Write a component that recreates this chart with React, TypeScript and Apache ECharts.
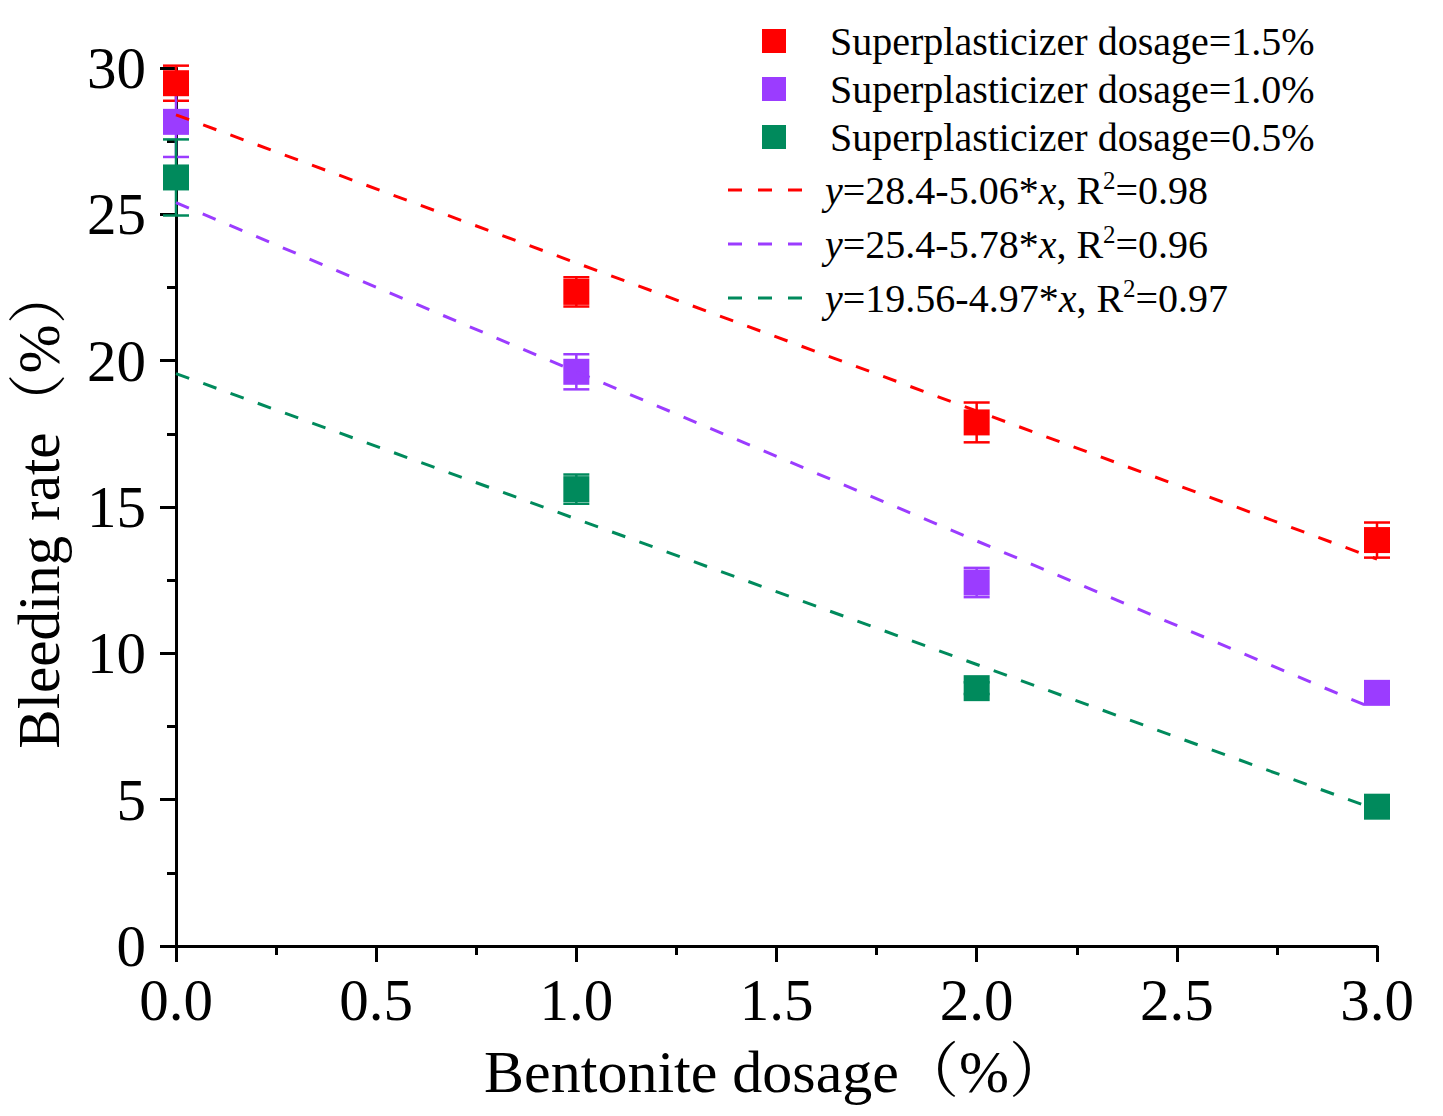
import React, { useEffect, useRef } from "react";
import * as echarts from "echarts";

const FONT = "'Liberation Serif', 'Times New Roman', 'Noto Serif CJK SC', 'Noto Sans CJK SC', serif";

const xValues = [0, 1, 2, 3];

const sp15Name = "Superplasticizer dosage=1.5%";
const sp10Name = "Superplasticizer dosage=1.0%";
const sp05Name = "Superplasticizer dosage=0.5%";

const sp15 = [29.48, 22.35, 17.89, 13.87];
const sp15Err = [0.6, 0.5, 0.68, 0.6];
const sp10 = [28.16, 19.62, 12.42, 8.65];
const sp10Err = [1.2, 0.6, 0.5, 0.2];
const sp05 = [26.26, 15.61, 8.81, 4.76];
const sp05Err = [1.3, 0.5, 0.2, 0.2];

const fit15Name = "fit15";
const fit10Name = "fit10";
const fit05Name = "fit05";
const fit15 = [[0, 28.4], [3, 13.22]];
const fit10 = [[0, 25.4], [3, 8.06]];
const fit05 = [[0, 19.56], [3, 4.65]];

const fitLabels: Record<string, string> = {
  fit15: "{i|y}=28.4-5.06*{i|x}, R{s|2}=0.98",
  fit10: "{i|y}=25.4-5.78*{i|x}, R{s|2}=0.96",
  fit05: "{i|y}=19.56-4.97*{i|x}, R{s|2}=0.97",
};

const RED = "#FF0000";
const PURPLE = "#9B3CFF";
const GREEN = "#008A5C";

const DASH_ICON = "path://M0 0h14v3H0z M30 0h14v3H30z M60 0h14v3H60z";

function errSeries(vals: number[], errs: number[], color: string) {
  return {
    type: "custom",
    z: 3,
    data: xValues.map((x, i) => [x, vals[i], errs[i]]),
    renderItem: (params: any, api: any) => {
      const x = api.value(0);
      const y = api.value(1);
      const e = api.value(2);
      const top = api.coord([x, y + e]);
      const bot = api.coord([x, y - e]);
      const hw = 13;
      const st = { stroke: color, lineWidth: 2.5 };
      return {
        type: "group",
        children: [
          { type: "line", shape: { x1: top[0], y1: top[1], x2: bot[0], y2: bot[1] }, style: st },
          { type: "line", shape: { x1: top[0] - hw, y1: top[1], x2: top[0] + hw, y2: top[1] }, style: st },
          { type: "line", shape: { x1: bot[0] - hw, y1: bot[1], x2: bot[0] + hw, y2: bot[1] }, style: st },
        ],
      };
    },
  };
}

function scatter(name: string, vals: number[], color: string) {
  return {
    name,
    type: "scatter",
    z: 3,
    symbol: "rect",
    symbolSize: 26,
    itemStyle: { color, opacity: 1 },
    data: xValues.map((x, i) => [x, vals[i]]),
  };
}

function fitLine(name: string, data: number[][], color: string) {
  return {
    name,
    type: "line",
    z: 4,
    symbol: "none",
    showSymbol: false,
    lineStyle: { color, width: 3, type: [14, 15] },
    itemStyle: { color },
    data,
  };
}

export default function App() {
  const ref = useRef<HTMLDivElement>(null);
  useEffect(() => {
    document.body.style.margin = "0";
    const chart = echarts.init(ref.current!, undefined, { renderer: "svg" });
    const axisLineStyle = { color: "#000", width: 3 };
    chart.setOption({
      animation: false,
      backgroundColor: "#fff",
      textStyle: { fontFamily: FONT },
      grid: { left: 176, right: 66, top: 68, bottom: 170, containLabel: false, outerBoundsMode: "none" },
      legend: [
        {
          data: [sp15Name, sp10Name, sp05Name],
          orient: "vertical",
          left: 762,
          top: 20,
          padding: 0,
          itemWidth: 24,
          itemHeight: 24,
          itemGap: 6,
          icon: "rect",
          textStyle: { fontFamily: FONT, fontSize: 40, color: "#000", lineHeight: 42, padding: [0, 0, 0, 39] },
        },
        {
          data: [fit15Name, fit10Name, fit05Name],
          orient: "vertical",
          left: 728,
          top: 168,
          padding: 0,
          itemWidth: 78,
          itemHeight: 3,
          itemGap: 10,
          icon: DASH_ICON,
          formatter: (n: string) => fitLabels[n] || n,
          textStyle: {
            fontFamily: FONT,
            fontSize: 40,
            color: "#000",
            lineHeight: 44,
            padding: [0, 0, 0, 16],
            rich: {
              i: { fontFamily: FONT, fontSize: 40, fontStyle: "italic", color: "#000", lineHeight: 44 },
              s: { fontFamily: FONT, fontSize: 25, color: "#000", verticalAlign: "top", lineHeight: 24 },
            },
          },
        },
      ],
      xAxis: {
        type: "value",
        min: 0,
        max: 3,
        interval: 0.5,
        name: "Bentonite dosage（%）",
        nameLocation: "middle",
        nameGap: 96,
        nameTextStyle: { fontFamily: FONT, fontSize: 60, color: "#000" },
        axisLine: { show: true, onZero: false, lineStyle: axisLineStyle },
        axisTick: { show: true, inside: false, length: 16, lineStyle: { color: "#000", width: 3 } },
        minorTick: { show: true, splitNumber: 2, length: 9, lineStyle: { color: "#000", width: 3 } },
        axisLabel: {
          fontFamily: FONT,
          fontSize: 59,
          color: "#000",
          margin: 24,
          formatter: (v: number) => v.toFixed(1),
        },
        splitLine: { show: false },
      },
      yAxis: {
        type: "value",
        min: 0,
        max: 30,
        interval: 5,
        name: "Bleeding rate（%）",
        nameLocation: "middle",
        nameGap: 108,
        nameTextStyle: { fontFamily: FONT, fontSize: 59, color: "#000" },
        axisLine: { show: true, onZero: false, lineStyle: axisLineStyle },
        axisTick: { show: true, inside: false, length: 16, lineStyle: { color: "#000", width: 3 } },
        minorTick: { show: true, splitNumber: 2, length: 9, lineStyle: { color: "#000", width: 3 } },
        axisLabel: { fontFamily: FONT, fontSize: 59, color: "#000", margin: 30 },
        splitLine: { show: false },
      },
      series: [
        scatter(sp15Name, sp15, RED),
        errSeries(sp15, sp15Err, RED),
        scatter(sp10Name, sp10, PURPLE),
        errSeries(sp10, sp10Err, PURPLE),
        scatter(sp05Name, sp05, GREEN),
        errSeries(sp05, sp05Err, GREEN),
        fitLine(fit15Name, fit15, RED),
        fitLine(fit10Name, fit10, PURPLE),
        fitLine(fit05Name, fit05, GREEN),
      ],
    });
    return () => chart.dispose();
  }, []);
  return <div ref={ref} style={{ width: 1443, height: 1116 }} />;
}
